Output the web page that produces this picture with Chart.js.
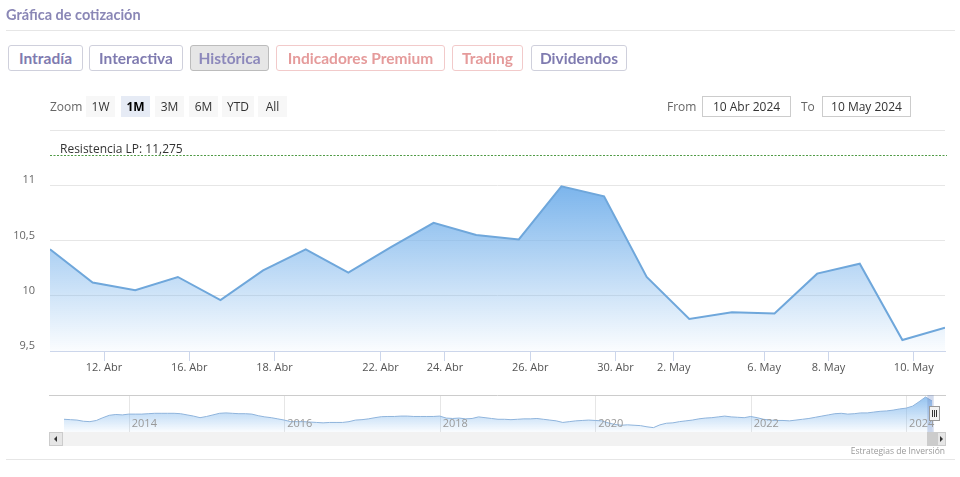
<!DOCTYPE html>
<html>
<head>
<meta charset="utf-8">
<script src="https://cdn.jsdelivr.net/npm/chart.js@4.4.1/dist/chart.umd.min.js"></script>
<style>
  html,body{margin:0;padding:0;background:#fff;}
  body{width:960px;height:477px;position:relative;overflow:hidden;font-family:"Open Sans",sans-serif;}
  .abs{position:absolute;box-sizing:border-box;}
  #title{left:6px;top:6px;font-family:Lato,sans-serif;font-weight:700;font-size:14.5px;color:#8a87b6;}
  .hr{height:1px;background:#e6e6e6;left:6px;width:949px;}
  .tab{top:45px;height:26px;border:1px solid #cfd0dc;border-radius:3px;font-family:Lato,sans-serif;font-weight:700;font-size:15.5px;color:#7f7bb0;display:flex;align-items:center;justify-content:center;background:#fff;}
  .tab.pink{color:#e59b9b;border-color:#f2caca;}
  .tab.sel{background:#e6e6e6;border-color:#bcbcbc;color:#8c88bb;}
  .zb{top:96px;height:21px;background:#f7f7f7;font-size:12px;color:#333;display:flex;align-items:center;justify-content:center;}
  .zb.sel{background:#e6ebf5;font-weight:700;color:#000;}
  .lbl{font-size:12px;color:#666;top:98px;}
  .inp{top:96px;height:21px;border:1px solid #cccccc;font-size:12px;color:#333;display:flex;align-items:center;justify-content:center;background:#fff;}
  canvas{position:absolute;left:0;}
</style>
</head>
<body>
<canvas id="main" width="960" height="380" style="top:0"></canvas>
<canvas id="nav" width="960" height="50" style="top:390px"></canvas>

<div id="title" class="abs">Gráfica de cotización</div>
<div class="abs hr" style="top:30px"></div>

<div class="abs tab" style="left:8px;width:75px">Intradía</div>
<div class="abs tab" style="left:89px;width:94px">Interactiva</div>
<div class="abs tab sel" style="left:190px;width:79px">Histórica</div>
<div class="abs tab pink" style="left:276px;width:169px">Indicadores Premium</div>
<div class="abs tab pink" style="left:452px;width:71px">Trading</div>
<div class="abs tab" style="left:531px;width:96px">Dividendos</div>

<div class="abs lbl" style="left:50px">Zoom</div>
<div class="abs zb" style="left:86px;width:29px">1W</div>
<div class="abs zb sel" style="left:121px;width:29px">1M</div>
<div class="abs zb" style="left:155px;width:29px">3M</div>
<div class="abs zb" style="left:189px;width:29px">6M</div>
<div class="abs zb" style="left:222px;width:32px">YTD</div>
<div class="abs zb" style="left:258px;width:29px">All</div>

<div class="abs lbl" style="left:667px">From</div>
<div class="abs inp" style="left:702px;width:89px">10 Abr 2024</div>
<div class="abs lbl" style="left:801px">To</div>
<div class="abs inp" style="left:822px;width:89px">10 May 2024</div>

<!-- scrollbar -->
<div class="abs" style="left:49px;top:432px;width:897px;height:14px;background:#f2f2f2;"></div>
<div class="abs" style="left:49px;top:432px;width:14px;height:14px;background:#e6e6e6;border:1px solid #cccccc;"></div>
<div class="abs" style="left:54px;top:436px;width:0;height:0;border-top:3px solid transparent;border-bottom:3px solid transparent;border-right:3px solid #333;"></div>
<div class="abs" style="left:927px;top:432px;width:10px;height:14px;background:#cccccc;"></div>
<div class="abs" style="left:937px;top:432px;width:9px;height:14px;background:#e6e6e6;border:1px solid #cccccc;"></div>
<div class="abs" style="left:940px;top:436px;width:0;height:0;border-top:3px solid transparent;border-bottom:3px solid transparent;border-left:3px solid #333;"></div>

<div class="abs" style="right:15px;top:445px;font-size:8.5px;color:#999;">Estrategias de Inversión</div>
<div class="abs hr" style="top:459px"></div>

<script>
// ---------- Data ----------
const tradeDates = ['2024-04-10','2024-04-11','2024-04-12','2024-04-15','2024-04-16','2024-04-17','2024-04-18','2024-04-19',
  '2024-04-22','2024-04-23','2024-04-24','2024-04-25','2024-04-26','2024-04-29','2024-04-30',
  '2024-05-02','2024-05-03','2024-05-06','2024-05-07','2024-05-08','2024-05-09','2024-05-10'];
const closes = [10.42,10.12,10.05,10.17,9.96,10.23,10.42,10.21,10.44,10.66,10.55,10.51,10.99,10.90,10.17,
  9.79,9.85,9.84,10.20,10.29,9.60,9.71];
const tickDates = ['2024-04-12','2024-04-16','2024-04-18','2024-04-22','2024-04-24','2024-04-26','2024-04-30',
  '2024-05-02','2024-05-06','2024-05-08','2024-05-10'];
const tickLabels = ['12. Abr','16. Abr','18. Abr','22. Abr','24. Abr','26. Abr','30. Abr','2. May','6. May','8. May','10. May'];
const yTicks = [9.5, 10, 10.5, 11, 11.5];
const resistance = 11.275;
const resistanceLabel = 'Resistencia LP: 11,275';

// Navigator: monthly values from Mar 2013 to May 2024
const navStartYear = 2013, navStartMonth = 3;
const navValues = [
  5.2,5.1,5.0,4.7,4.6,4.9,5.6,6.2,6.4,6.3,
  6.5,6.5,6.5,6.6,6.7,6.7,6.7,6.7,6.6,6.3,6.0,5.6,
  5.9,6.3,6.7,6.8,6.7,6.6,6.6,6.5,6.1,5.8,5.6,5.3,
  5.0,4.6,4.6,4.6,4.5,4.4,4.3,4.4,4.4,4.4,4.6,5.0,
  5.1,5.3,5.6,5.85,5.9,5.9,6.0,6.0,5.9,5.9,5.9,5.9,
  6.0,5.5,5.4,5.5,5.3,5.4,5.8,5.6,5.4,5.2,5.2,5.1,
  5.2,5.3,5.3,5.4,5.2,5.0,4.8,4.4,4.6,4.8,4.9,5.0,
  4.9,4.8,4.3,3.9,3.7,3.8,3.7,3.6,3.3,3.1,3.8,4.2,
  4.3,4.6,4.8,5.0,5.3,5.5,5.6,5.8,6.0,5.8,5.7,5.6,
  5.9,5.6,5.2,5.0,4.9,4.9,4.8,5.0,5.2,5.4,5.7,6.0,
  6.3,6.6,6.7,6.5,6.6,6.8,6.8,7.0,7.2,7.3,7.5,7.8,
  8.0,8.5,9.6,10.8,9.8
];
const navYears = [2014, 2016, 2018, 2020, 2022, 2024];
const navSelFrom = '2024-04-10', navSelTo = '2024-05-10';

// ---------- Ordinal positions (trading-day axis) ----------
const CLOSE_MS = (17 * 60 + 35) * 60000;
const pts = tradeDates.map(d => Date.parse(d + 'T00:00:00Z') + CLOSE_MS);
function ordinalPos(ms) {
  for (let i = 0; i < pts.length - 1; i++) {
    if (ms >= pts[i] && ms < pts[i + 1]) return i + (ms - pts[i]) / (pts[i + 1] - pts[i]);
  }
  return pts.length - 1;
}
const tickPos = tickDates.map(d => ordinalPos(Date.parse(d + 'T00:00:00Z')));

const FONT = 'Open Sans';

// ---------- Main chart ----------
const resistancePlugin = {
  id: 'resistance',
  afterDatasetsDraw(chart) {
    const { ctx, chartArea, scales } = chart;
    const y = Math.round(scales.y.getPixelForValue(resistance)) + 0.5;
    ctx.save();
    ctx.strokeStyle = '#4f9a45';
    ctx.lineWidth = 1;
    ctx.setLineDash([2, 1.5]);
    ctx.beginPath();
    ctx.moveTo(chartArea.left, y);
    ctx.lineTo(chartArea.right + 2, y);
    ctx.stroke();
    ctx.setLineDash([]);
    ctx.fillStyle = '#333';
    ctx.font = '12px "' + FONT + '"';
    ctx.textBaseline = 'alphabetic';
    ctx.fillText(resistanceLabel, chartArea.left + 10, y - 3);
    ctx.restore();
  }
};

new Chart(document.getElementById('main'), {
  type: 'line',
  data: {
    datasets: [{
      data: closes.map((v, i) => ({ x: i, y: v })),
      borderColor: '#6fa7db',
      borderWidth: 2,
      pointRadius: 0,
      tension: 0,
      fill: 'start',
      backgroundColor: (c) => {
        const chart = c.chart;
        const { chartArea, scales } = chart;
        if (!chartArea) return 'rgba(124,181,236,0.5)';
        const top = scales.y.getPixelForValue(Math.max(...closes));
        const g = chart.ctx.createLinearGradient(0, top, 0, chartArea.bottom);
        g.addColorStop(0, 'rgba(124,181,236,1)');
        g.addColorStop(1, 'rgba(124,181,236,0.03)');
        return g;
      }
    }]
  },
  options: {
    responsive: false,
    animation: false,
    layout: { padding: { top: 130, right: 15, left: 0, bottom: 0 } },
    plugins: { legend: { display: false }, tooltip: { enabled: false } },
    scales: {
      x: {
        type: 'linear',
        min: 0,
        max: closes.length - 1,
        afterBuildTicks: (s) => { s.ticks = tickPos.map(v => ({ value: v })); },
        afterFit: (s) => { s.height = 29; },
        ticks: {
          autoSkip: false, maxRotation: 0, minRotation: 0,
          callback: (v, i) => tickLabels[i],
          color: '#555', font: { family: FONT, size: 11 }, padding: 0
        },
        grid: { drawOnChartArea: false, drawTicks: true, tickLength: 10, color: '#ccd6eb' },
        border: { color: '#ccd6eb' }
      },
      y: {
        min: 9.5, max: 11.5,
        afterBuildTicks: (s) => { s.ticks = yTicks.map(v => ({ value: v })); },
        afterFit: (s) => { s.width = 50; },
        ticks: {
          callback: (v) => v === 11.5 ? '' : String(v).replace('.', ','),
          color: '#666', font: { family: FONT, size: 11 }, padding: 15, labelOffset: -5
        },
        grid: { color: '#e6e6e6', drawTicks: false },
        border: { display: false }
      }
    }
  },
  plugins: [resistancePlugin]
});

// ---------- Navigator ----------
const navX = navValues.map((v, i) => {
  const m = navStartMonth - 1 + i;
  return navStartYear + m / 12;
});
function yearFrac(d) {
  const ms = Date.parse(d + 'T00:00:00Z');
  const y = new Date(ms).getUTCFullYear();
  const s = Date.UTC(y, 0, 1), e = Date.UTC(y + 1, 0, 1);
  return y + (ms - s) / (e - s);
}

const navPlugin = {
  id: 'navdeco',
  beforeDatasetsDraw(chart) {
    const { ctx, chartArea, scales } = chart;
    ctx.save();
    ctx.strokeStyle = '#e6e6e6';
    ctx.lineWidth = 1;
    navYears.forEach(yr => {
      const x = Math.round(scales.x.getPixelForValue(yr)) + 0.5;
      ctx.beginPath(); ctx.moveTo(x, chartArea.top); ctx.lineTo(x, chartArea.bottom); ctx.stroke();
    });
    ctx.strokeStyle = '#cccccc';
    ctx.beginPath(); ctx.moveTo(49, chartArea.top + 0.5); ctx.lineTo(946, chartArea.top + 0.5); ctx.stroke();
    ctx.restore();
  },
  afterDatasetsDraw(chart) {
    const { ctx, chartArea, scales } = chart;
    ctx.save();
    const x1 = scales.x.getPixelForValue(yearFrac(navSelFrom));
    const x2 = scales.x.getPixelForValue(Math.max(yearFrac(navSelTo), navX[navX.length - 1]));
    ctx.fillStyle = 'rgba(102,133,194,0.3)';
    ctx.fillRect(x1, chartArea.top, x2 - x1, chartArea.bottom - chartArea.top);
    ctx.fillStyle = '#999';
    ctx.font = '11px "' + FONT + '"';
    ctx.textBaseline = 'middle';
    navYears.forEach(yr => {
      const x = scales.x.getPixelForValue(yr);
      ctx.fillText(String(yr), x + 3, chartArea.top + 29);
    });
    const hx = Math.round(x2) - 5;
    ctx.fillStyle = '#f2f2f2';
    ctx.strokeStyle = '#999';
    ctx.fillRect(hx + 0.5, chartArea.top + 11.5, 10, 14);
    ctx.strokeRect(hx + 0.5, chartArea.top + 11.5, 10, 14);
    ctx.beginPath();
    [3, 5, 7].forEach(dx => { ctx.moveTo(hx + dx + 0.5, chartArea.top + 15); ctx.lineTo(hx + dx + 0.5, chartArea.top + 22); });
    ctx.strokeStyle = '#333';
    ctx.stroke();
    ctx.restore();
  }
};

new Chart(document.getElementById('nav'), {
  type: 'line',
  data: {
    datasets: [{
      data: navValues.map((v, i) => ({ x: navX[i], y: v })),
      borderColor: '#8fb4dc',
      borderWidth: 1,
      pointRadius: 0,
      tension: 0,
      fill: 'start',
      backgroundColor: (c) => {
        const chart = c.chart;
        const { chartArea } = chart;
        if (!chartArea) return 'rgba(124,181,236,0.3)';
        const g = chart.ctx.createLinearGradient(0, chartArea.top, 0, chartArea.bottom);
        g.addColorStop(0, 'rgba(124,181,236,0.85)');
        g.addColorStop(1, 'rgba(124,181,236,0.04)');
        return g;
      }
    }]
  },
  options: {
    responsive: false,
    animation: false,
    layout: { padding: { top: 5, left: 64, right: 28, bottom: 8 } },
    plugins: { legend: { display: false }, tooltip: { enabled: false } },
    scales: {
      x: { type: 'linear', display: false, min: navX[0], max: navX[navX.length - 1] },
      y: { display: false, min: 2, max: 11.3 }
    }
  },
  plugins: [navPlugin]
});
</script>
</body>
</html>
